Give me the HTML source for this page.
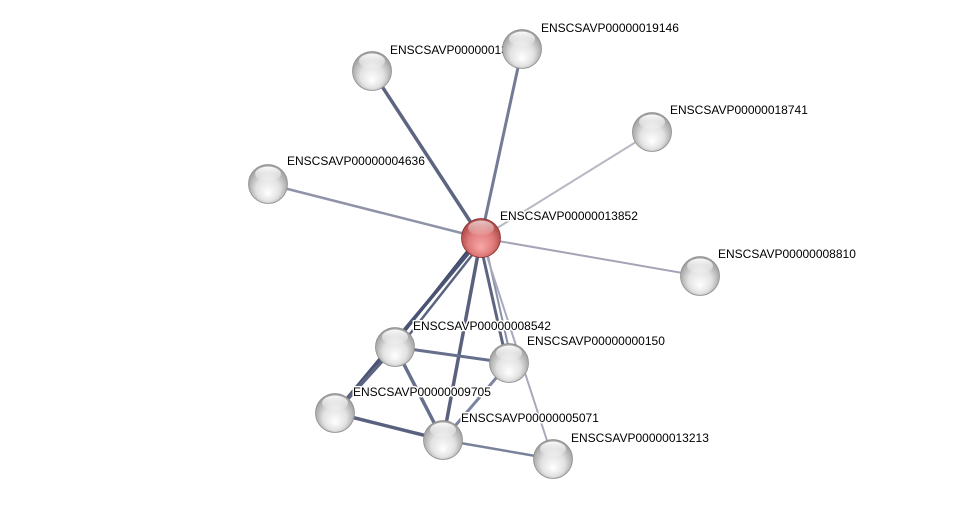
<!DOCTYPE html>
<html><head><meta charset="utf-8"><style>
html,body{margin:0;padding:0;background:#fff;}
svg{display:block;}
text{font-family:"Liberation Sans",sans-serif;font-size:12px;fill:#000;paint-order:stroke;stroke:#fff;stroke-width:3px;stroke-linejoin:round;}
</style></head><body>
<svg width="976" height="505" viewBox="0 0 976 505" xmlns="http://www.w3.org/2000/svg">
<defs>
<radialGradient id="g" cx="50%" cy="55%" r="55%" fx="50%" fy="75%">
<stop offset="0" stop-color="#ffffff"/><stop offset="0.55" stop-color="#e2e2e2"/><stop offset="1" stop-color="#9a9a9a"/>
</radialGradient>
<radialGradient id="r" cx="50%" cy="55%" r="55%" fx="50%" fy="75%">
<stop offset="0" stop-color="#f7a8a8"/><stop offset="0.6" stop-color="#e07a7a"/><stop offset="1" stop-color="#a84444"/>
</radialGradient>
<linearGradient id="hl" x1="0" y1="0" x2="0" y2="1">
<stop offset="0" stop-color="#fff" stop-opacity="0.95"/><stop offset="1" stop-color="#fff" stop-opacity="0.1"/>
</linearGradient>
<symbol id="n" overflow="visible"><circle cx="0" cy="0" r="19.5" fill="url(#g)" stroke="#8e8e8e" stroke-width="0.8"/><ellipse cx="0" cy="-10" rx="13" ry="7.5" fill="url(#hl)"/></symbol>
<symbol id="c" overflow="visible"><circle cx="0" cy="0" r="19.5" fill="url(#r)" stroke="#8a3030" stroke-width="0.8"/><ellipse cx="0" cy="-10" rx="13" ry="7.5" fill="url(#hl)" opacity="0.7"/></symbol>
</defs>
<g stroke-linecap="round">
<line x1="481" y1="238" x2="372" y2="71" stroke="#5d6580" stroke-width="3.5"/>
<line x1="481" y1="238" x2="522" y2="49" stroke="#747b95" stroke-width="3"/>
<line x1="481" y1="238" x2="652" y2="132" stroke="#b8b8c4" stroke-width="2"/>
<line x1="481" y1="238" x2="268" y2="184" stroke="#8f93a8" stroke-width="2.5"/>
<line x1="481" y1="238" x2="700" y2="276" stroke="#a4a4b6" stroke-width="2"/>
<line x1="478" y1="238" x2="392" y2="347" stroke="#3e4868" stroke-width="3"/>
<line x1="484" y1="240" x2="398" y2="349" stroke="#5a6380" stroke-width="2.5"/>
<line x1="481" y1="238" x2="335" y2="413" stroke="#4a5373" stroke-width="3.5"/>
<line x1="481" y1="238" x2="443" y2="440" stroke="#59617e" stroke-width="3.5"/>
<line x1="479" y1="238" x2="507" y2="363" stroke="#5d6582" stroke-width="3"/>
<line x1="484" y1="238" x2="512" y2="363" stroke="#8c90a8" stroke-width="2"/>
<line x1="481" y1="238" x2="553" y2="459" stroke="#a8aabb" stroke-width="2"/>
<line x1="395" y1="347" x2="509" y2="363" stroke="#66708b" stroke-width="3"/>
<line x1="395" y1="347" x2="335" y2="413" stroke="#5b6480" stroke-width="3.5"/>
<line x1="395" y1="347" x2="443" y2="440" stroke="#66708b" stroke-width="3.5"/>
<line x1="335" y1="413" x2="443" y2="440" stroke="#59617e" stroke-width="3.5"/>
<line x1="509" y1="363" x2="443" y2="440" stroke="#7c84a0" stroke-width="3"/>
<line x1="443" y1="440" x2="553" y2="459" stroke="#7a819b" stroke-width="2.5"/>
</g>
<use href="#n" x="372" y="71"/>
<text x="390" y="54">ENSCSAVP00000013852</text>
<use href="#n" x="522" y="49"/>
<text x="541" y="32">ENSCSAVP00000019146</text>
<use href="#n" x="652" y="132"/>
<text x="670" y="114">ENSCSAVP00000018741</text>
<use href="#n" x="268" y="184"/>
<text x="287" y="165">ENSCSAVP00000004636</text>
<use href="#n" x="700" y="276"/>
<text x="718" y="258">ENSCSAVP00000008810</text>
<use href="#c" x="481" y="238"/>
<text x="500" y="220">ENSCSAVP00000013852</text>
<use href="#n" x="395" y="347"/>
<text x="413" y="330">ENSCSAVP00000008542</text>
<use href="#n" x="509" y="363"/>
<text x="527" y="345">ENSCSAVP00000000150</text>
<use href="#n" x="335" y="413"/>
<text x="353" y="396">ENSCSAVP00000009705</text>
<use href="#n" x="443" y="440"/>
<text x="461" y="422">ENSCSAVP00000005071</text>
<use href="#n" x="553" y="459"/>
<text x="571" y="442">ENSCSAVP00000013213</text>
</svg>
</body></html>
